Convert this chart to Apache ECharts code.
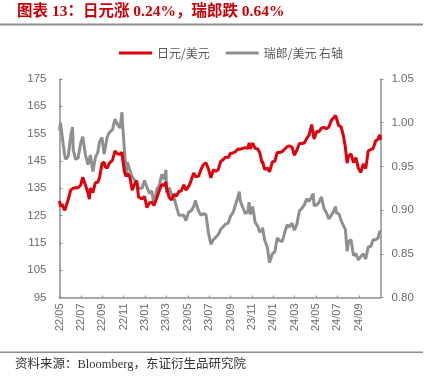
<!DOCTYPE html>
<html>
<head>
<meta charset="utf-8">
<script src="https://cdn.jsdelivr.net/npm/echarts@6/dist/echarts.min.js"></script>
<style>
html,body{margin:0;padding:0;background:#fff;}
#c{width:432px;height:380px;}
</style>
</head>
<body>
<div id="c"></div>
<script>
// ---- data ----
const titleText = '图表 13：日元涨 0.24%，瑞郎跌 0.64%';
const sourceText = '资料来源：Bloomberg，东证衍生品研究院';
const seriesNames = ['日元/美元', '瑞郎/美元 右轴'];
const leftTicks = [95, 175, 10];
const rightTicks = [0.80, 1.05, 0.05];
const axisStart = '2022-05-09';
const dates = [
'2022-05-09','2022-05-12','2022-05-16','2022-05-20','2022-05-24','2022-05-27','2022-06-03','2022-06-10','2022-06-15','2022-06-17',
'2022-06-24','2022-07-01','2022-07-08','2022-07-14','2022-07-22','2022-07-29','2022-08-02','2022-08-05','2022-08-12','2022-08-19',
'2022-08-26','2022-08-31','2022-09-07','2022-09-13','2022-09-16','2022-09-22','2022-09-28','2022-09-30','2022-10-07','2022-10-14',
'2022-10-21','2022-10-28','2022-11-03','2022-11-04','2022-11-10','2022-11-15','2022-11-18','2022-11-25','2022-12-02','2022-12-09',
'2022-12-15','2022-12-20','2022-12-30','2023-01-06','2023-01-13','2023-01-20','2023-01-27','2023-02-02','2023-02-10','2023-02-17',
'2023-02-24','2023-03-03','2023-03-08','2023-03-10','2023-03-17','2023-03-24','2023-03-31','2023-04-07','2023-04-14','2023-04-21',
'2023-04-28','2023-05-04','2023-05-12','2023-05-19','2023-05-26','2023-05-31','2023-06-02','2023-06-09','2023-06-16','2023-06-23',
'2023-06-30','2023-07-07','2023-07-14','2023-07-21','2023-07-28','2023-08-04','2023-08-11','2023-08-18','2023-08-25','2023-09-01',
'2023-09-08','2023-09-15','2023-09-22','2023-09-29','2023-10-03','2023-10-06','2023-10-13','2023-10-20','2023-10-27','2023-10-31',
'2023-11-03','2023-11-10','2023-11-17','2023-11-24','2023-11-30','2023-12-07','2023-12-08','2023-12-14','2023-12-22','2023-12-28',
'2024-01-05','2024-01-12','2024-01-19','2024-01-26','2024-02-02','2024-02-09','2024-02-16','2024-02-23','2024-03-01','2024-03-08',
'2024-03-15','2024-03-22','2024-03-29','2024-04-05','2024-04-12','2024-04-19','2024-04-26','2024-04-30','2024-05-03','2024-05-10',
'2024-05-17','2024-05-24','2024-05-31','2024-06-07','2024-06-14','2024-06-21','2024-06-28','2024-07-03','2024-07-05','2024-07-12',
'2024-07-19','2024-07-26','2024-07-31','2024-08-05','2024-08-09','2024-08-16','2024-08-23','2024-08-30','2024-09-06','2024-09-13',
'2024-09-16','2024-09-20','2024-09-27','2024-10-04','2024-10-11','2024-10-18','2024-10-25','2024-11-01','2024-11-06','2024-11-08'
];
const jpy = [
130.3,128.3,129.2,127.9,126.9,127.1,130.9,134.4,134.0,135.0,
135.2,135.2,136.1,139.0,136.1,133.3,131.0,135.0,133.4,137.0,
137.2,138.9,144.0,144.6,142.9,142.4,144.2,144.7,145.3,148.7,
147.6,147.4,148.2,146.6,141.0,139.3,140.4,139.2,134.3,136.6,
137.8,131.8,131.1,132.0,127.9,129.6,129.9,128.7,131.4,134.1,
136.4,135.9,137.3,134.9,131.8,130.7,132.8,132.2,133.8,134.1,
136.3,134.3,135.7,137.9,140.6,139.3,139.9,139.4,141.9,143.7,
144.3,142.1,138.8,141.8,141.2,141.8,144.9,145.4,146.4,146.2,
147.8,147.9,148.4,149.4,149.8,149.3,149.6,149.9,149.6,151.6,
149.4,151.5,149.6,149.4,148.2,144.1,144.9,141.9,142.4,141.0,
144.6,144.9,148.1,148.1,148.4,149.3,150.2,150.5,150.1,147.1,
149.0,151.4,151.4,151.6,153.2,154.6,158.3,157.8,153.0,155.8,
155.7,157.0,157.3,156.8,157.4,159.8,160.9,161.7,160.8,157.9,
157.5,153.8,150.0,144.2,146.7,147.6,144.4,146.2,142.3,140.8,
140.6,143.9,142.2,148.7,149.1,149.5,152.3,153.0,154.6,152.6
];
const chf = [
0.991,1.000,1.002,0.974,0.962,0.958,0.962,0.985,0.995,0.969,
0.958,0.960,0.976,0.984,0.963,0.952,0.958,0.963,0.944,0.960,
0.966,0.978,0.983,0.964,0.963,0.984,0.989,0.988,0.992,1.004,
0.998,0.994,1.012,1.002,0.968,0.943,0.955,0.946,0.938,0.934,
0.931,0.925,0.925,0.934,0.926,0.919,0.922,0.906,0.924,0.928,
0.941,0.935,0.946,0.920,0.926,0.918,0.914,0.904,0.894,0.894,
0.894,0.888,0.898,0.899,0.904,0.911,0.908,0.899,0.894,0.896,
0.895,0.874,0.861,0.866,0.869,0.872,0.878,0.881,0.884,0.885,
0.893,0.897,0.906,0.915,0.921,0.910,0.903,0.896,0.898,0.909,
0.895,0.904,0.886,0.882,0.875,0.877,0.880,0.866,0.857,0.840,
0.850,0.852,0.868,0.865,0.864,0.874,0.883,0.881,0.885,0.877,
0.884,0.899,0.902,0.906,0.913,0.910,0.915,0.919,0.905,0.906,
0.909,0.915,0.902,0.897,0.890,0.894,0.899,0.904,0.897,0.896,
0.888,0.882,0.878,0.853,0.864,0.866,0.848,0.850,0.843,0.847,
0.846,0.850,0.844,0.858,0.858,0.866,0.866,0.868,0.876,0.875
];
const xLabelMonths = [0,2,4,6,8,10,12,14,16,18,20,22,24,26,28];

// ---- build ----
const DAY = 86400000;
const t0 = Date.parse(axisStart + 'T00:00:00Z');
function toMonths(d){ return (Date.parse(d + 'T00:00:00Z') - t0) / DAY / 30.4375; }
const xs = dates.map(toMonths);
const xMax = xs[xs.length - 1];
function monthLabel(k){
  const total = 2022*12 + 4 + Math.round(k);
  const y = Math.floor(total/12), m = total%12 + 1;
  return String(y).slice(2) + '/' + (m<10?'0':'') + m;
}
const labelColor = '#6b6b6b';
const axisColor = '#8c8c8c';
const chart = echarts.init(document.getElementById('c'), null, {renderer:'canvas'});
chart.setOption({
  animation: false,
  backgroundColor: '#fff',
  textStyle: {fontFamily: '"Liberation Sans","Noto Sans CJK SC",sans-serif'},
  graphic: [
    {type:'text', left: 17, top: 4, style:{text: titleText, fill:'#c8000a',
      font:'bold 15.5px "Liberation Serif","Noto Sans CJK SC",serif'}},
    {type:'rect', left:0, top:23.5, shape:{width:423, height:2}, style:{fill:'#8c8c8c'}},
    {type:'rect', left:0, top:351.5, shape:{width:423, height:1.5}, style:{fill:'#8c8c8c'}},
    {type:'text', left: 15, top: 358, style:{text: sourceText, fill:'#333',
      font:'12.5px "Liberation Serif","Noto Sans CJK SC",serif'}}
  ],
  legend: {
    left: 114, top: 42, itemWidth: 33, itemHeight: 3, itemGap: 16, icon: 'rect',
    textStyle: {fontSize: 12, color: '#595959', fontFamily: '"Noto Sans CJK SC",sans-serif'},
    data: seriesNames
  },
  grid: {left: 59.5, right: 51.5, top: 79, bottom: 82.5, containLabel: false},
  xAxis: {
    type: 'value', min: 0, max: xMax,
    axisLine: {lineStyle: {color: axisColor, width: 1.5}},
    axisTick: {inside: true, length: 2, customValues: xLabelMonths, lineStyle:{color: axisColor}},
    axisLabel: {customValues: xLabelMonths, rotate: 90, margin: 6, fontSize: 11, color: labelColor,
      formatter: v => monthLabel(v)},
    splitLine: {show: false}
  },
  yAxis: [
    {type: 'value', min: leftTicks[0], max: leftTicks[1], interval: leftTicks[2],
      axisLine: {show: true, lineStyle: {color: axisColor, width: 1.5}},
      axisTick: {show: true, inside: true, length: 3, lineStyle:{color: axisColor}},
      axisLabel: {fontSize: 11.5, color: labelColor, margin: 13},
      splitLine: {show: false}},
    {type: 'value', min: rightTicks[0], max: rightTicks[1], interval: rightTicks[2], position: 'right',
      axisLine: {show: true, lineStyle: {color: axisColor, width: 1.5}},
      axisTick: {show: true, inside: false, length: 3, lineStyle:{color: axisColor}},
      axisLabel: {fontSize: 11.5, color: labelColor, margin: 11, formatter: v => v.toFixed(2)},
      splitLine: {show: false}}
  ],
  series: [
    {name: seriesNames[1], type: 'line', yAxisIndex: 1, showSymbol: false, symbol: 'none',
      lineStyle: {color: '#8f8f8f', width: 3}, itemStyle: {color: '#8f8f8f'},
      data: xs.map((x, i) => [x, chf[i]])},
    {name: seriesNames[0], type: 'line', yAxisIndex: 0, showSymbol: false, symbol: 'none',
      lineStyle: {color: '#e0000b', width: 3}, itemStyle: {color: '#e0000b'},
      data: xs.map((x, i) => [x, jpy[i]])}
  ]
});
</script>
</body>
</html>
